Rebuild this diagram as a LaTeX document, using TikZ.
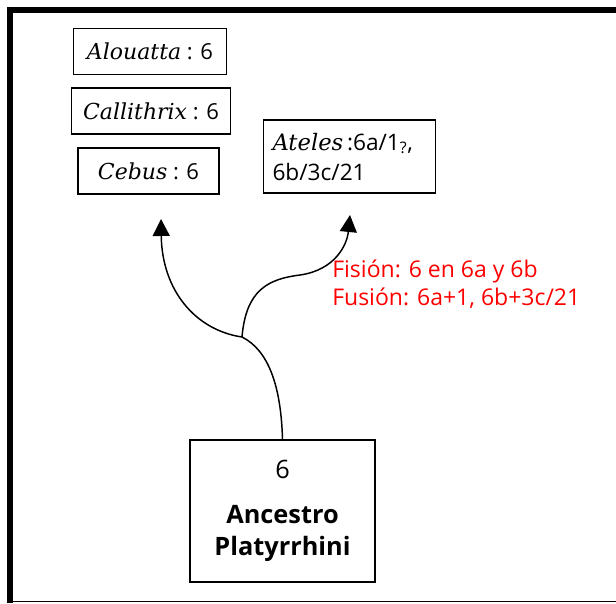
\documentclass[tikz,border=0pt]{standalone}
\usepackage{fontspec}
\setmainfont{Open Sans}
\newfontfamily\genusfont{DejaVu Serif}
\usetikzlibrary{arrows.meta}

\begin{document}
\begin{tikzpicture}
[x=0.75pt,y=-0.75pt,%
  boxDecorate/.style={draw,line width=1.1pt,inner sep=0pt,font=\fontsize{16.5}{20}\selectfont},%
  lineDecorate/.style={line width=1.1pt},%
  arrowDecorate/.style={lineDecorate,-{Triangle[width=12.75pt,length=12.75pt]}},%
  noteDecorate/.style={text=red,align=left,inner sep=0pt,font=\fontsize{17.25}{21}\selectfont}]
\useasboundingbox (0,0) rectangle (616,603);
%% frame
\draw[line width=4.5pt] (9.5,603) -- (9.5,10) -- (616,10);
\draw[line width=1.1pt] (9.5,601.5) -- (616,601.5);
%% boxes
\foreach \nodename/\genus/\x/\y/\w in {alouatta/Alouatta/150/51.5/114.75, callithrix/Callithrix/151/111/119.25, cebus/Cebus/148.5/171/105.75}
{
  \node (\nodename) at (\x,\y) [boxDecorate,minimum width=\w pt,minimum height=34.5pt]
    {{\genusfont\itshape\genus} : 6};
}
\node (ateles) at (349.5,156.5) [boxDecorate,align=left,inner xsep=6.75pt,text width=115.5pt,
  minimum height=54.75pt,font=\fontsize{17}{22.5}\selectfont]
  {{\genusfont\itshape Ateles}\,:6a/1\textsubscript{?},\\6b/3c/21};
\node (ancestro) at (282.5,511) [boxDecorate,align=center,minimum width=138.75pt,
  minimum height=106.5pt,font=\fontsize{19}{24}\selectfont]
  {6\\[9.75pt]\textbf{Ancestro}\\\textbf{Platyrrhini}};
\node (fision) at (332,305) [noteDecorate,anchor=base west]
  {Fisión: 6 en 6a y 6b\\Fusión: 6a+1, 6b+3c/21};
%% branches
\coordinate (split) at (242,337);
\coordinate (leftTip) at (161,219);
\coordinate (rightTip) at (350,215);
\draw[lineDecorate] (ancestro.north) .. controls (281,385) and (268,350) .. (split);
\draw[arrowDecorate] (split) .. controls (195,330) and (162,290) .. (leftTip);
\draw[arrowDecorate] (split) .. controls (246,290) and (268,279) .. (300,275)
  .. controls (335,270) and (347,245) .. (rightTip);
\end{tikzpicture}
\end{document}
